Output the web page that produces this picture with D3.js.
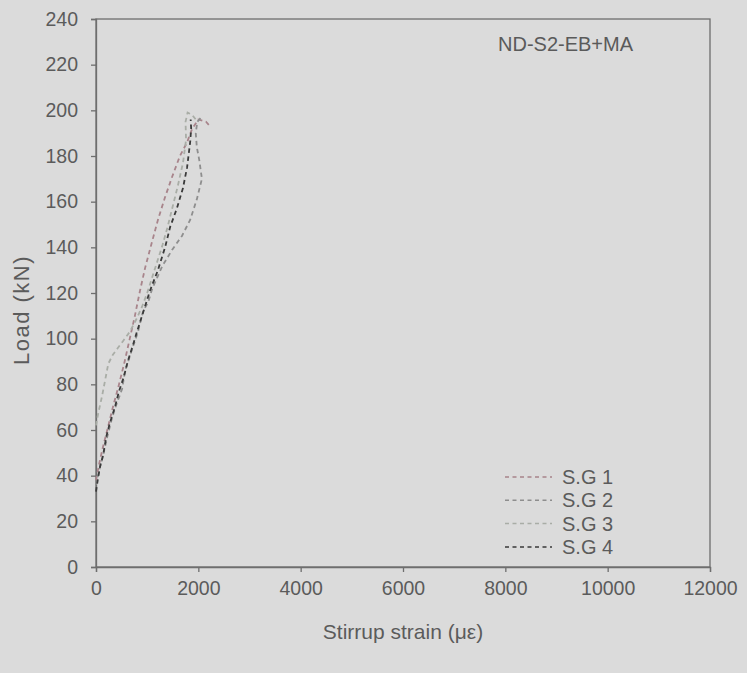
<!DOCTYPE html>
<html>
<head>
<meta charset="utf-8">
<script src="https://cdn.jsdelivr.net/npm/d3@7"></script>
<style>
  html, body { margin: 0; padding: 0; background: #dbdbdb; }
  svg { display: block; font-family: Arial, "Liberation Sans", sans-serif; }
</style>
</head>
<body>
<svg id="chart" width="747" height="673"></svg>
<script>
// Stirrup strain (µε) vs load (kN) for each strain gauge
const sg1 = [[0,38],[60,45],[130,52],[220,60],[330,70],[450,80],[560,90],[660,100],[760,110],[860,121],[960,131],[1090,142],[1210,152],[1350,162],[1490,171],[1640,180],[1780,186],[1880,192],[2000,196],[2150,195],[2230,193]];
const sg2 = [[0,36],[80,44],[140,49],[220,57],[310,65],[380,70],[510,78],[570,86],[700,95],[820,103],[920,112],[1020,116],[1100,122],[1200,127],[1300,132],[1410,136],[1490,139],[1680,145],[1840,152],[1970,161],[2070,170],[2020,178],[1970,184],[1950,190],[1980,195],[2060,197]];
const sg3 = [[0,62],[40,67],[120,75],[180,82],[240,89],[330,93],[430,96],[530,99],[660,103],[800,109],[900,114],[1000,120],[1100,127],[1200,134],[1300,141],[1400,149],[1500,158],[1600,167],[1700,177],[1760,187],[1750,195],[1790,199],[1880,198],[1950,196]];
const sg4 = [[0,33],[40,39],[80,44],[140,49],[200,57],[270,63],[370,70],[450,77],[540,83],[620,90],[720,97],[800,103],[900,110],[1055,121],[1210,130],[1350,140],[1450,149],[1580,157],[1700,166],[1780,175],[1840,186],[1860,192],[1850,196]];

const seriesNames = ["S.G 1", "S.G 2", "S.G 3", "S.G 4"];
const seriesData = [sg1, sg2, sg3, sg4];
const seriesColors = ["#a8848b", "#8e8e8e", "#a9ada6", "#3a3a3a"];

const xTicks = [0, 2000, 4000, 6000, 8000, 10000, 12000];
const yTicks = [0, 20, 40, 60, 80, 100, 120, 140, 160, 180, 200, 220, 240];

const svg = d3.select("#chart");
const m = { left: 96, right: 37, top: 19, bottom: 106 };
const W = 747, H = 673;
const iw = W - m.left - m.right, ih = H - m.top - m.bottom;

const x = d3.scaleLinear().domain([0, 12000]).range([m.left, m.left + iw]);
const y = d3.scaleLinear().domain([0, 240]).range([m.top + ih, m.top]);

const axisColor = "#6e6e6e";
const textColor = "#5b5b5b";

// plot frame
svg.append("rect")
  .attr("x", m.left).attr("y", m.top)
  .attr("width", iw).attr("height", ih)
  .attr("fill", "none").attr("stroke", axisColor).attr("stroke-width", 1.3);

const xAxis = svg.append("g")
  .attr("transform", `translate(0,${m.top + ih})`)
  .call(d3.axisBottom(x).tickValues(xTicks).tickSize(5).tickPadding(9).tickFormat(d3.format("d")));
const yAxis = svg.append("g")
  .attr("transform", `translate(${m.left},0)`)
  .call(d3.axisLeft(y).tickValues(yTicks).tickSize(5).tickPadding(13).tickFormat(d3.format("d")));

[xAxis, yAxis].forEach(g => {
  g.selectAll("path, line").attr("stroke", axisColor).attr("stroke-width", 1.3);
  g.selectAll("text").attr("fill", textColor).style("font-size", "19.5px");
});

// axis titles
svg.append("text")
  .attr("x", m.left + iw / 2).attr("y", 639)
  .attr("text-anchor", "middle").attr("fill", textColor)
  .style("font-size", "21px").text("Stirrup strain (με)");
svg.append("text")
  .attr("transform", `translate(29,${m.top + ih / 2 + 17}) rotate(-90)`)
  .attr("text-anchor", "middle").attr("fill", textColor)
  .style("font-size", "22px").style("letter-spacing", "1.5px").text("Load (kN)");

// specimen label
svg.append("text")
  .attr("x", 498).attr("y", 51)
  .attr("fill", "#5a5a5a").style("font-size", "20px").text("ND-S2-EB+MA");

// gauge curves
const line = d3.line().x(d => x(d[0])).y(d => y(d[1]));
seriesData.forEach((data, i) => {
  svg.append("path")
    .datum(data)
    .attr("d", line)
    .attr("fill", "none")
    .attr("stroke", seriesColors[i])
    .attr("stroke-width", 1.8)
    .attr("stroke-dasharray", "4.5,3.5");
});

// legend
const lg = svg.append("g");
seriesNames.forEach((name, i) => {
  const yy = 477 + i * 23.3;
  lg.append("line")
    .attr("x1", 505).attr("x2", 552).attr("y1", yy).attr("y2", yy)
    .attr("stroke", seriesColors[i]).attr("stroke-width", 1.5)
    .attr("stroke-dasharray", "4,3.5");
  lg.append("text")
    .attr("x", 562).attr("y", yy + 7)
    .attr("fill", textColor).style("font-size", "20px").text(name);
});
</script>
</body>
</html>
